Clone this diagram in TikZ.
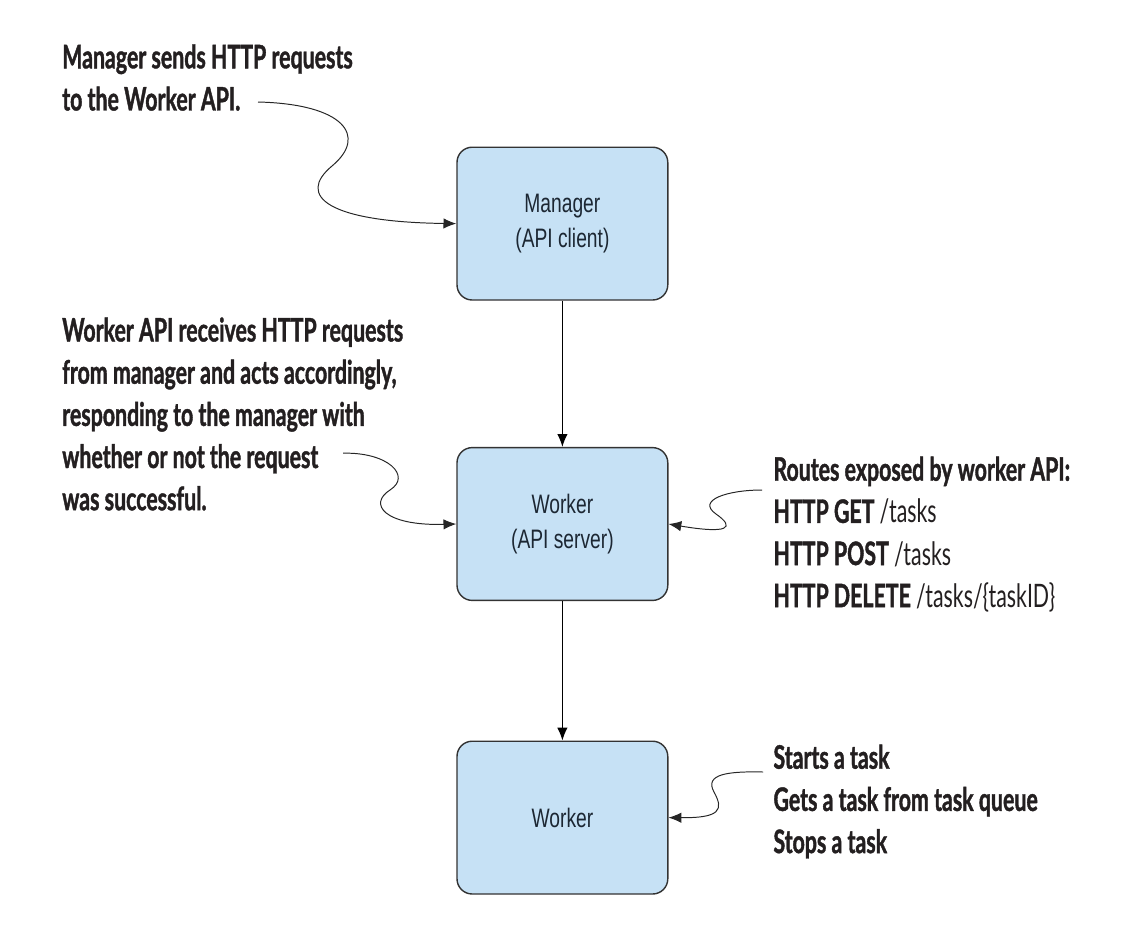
\documentclass[tikz,border=0pt]{standalone}
\usepackage{fontspec}
\setmainfont{Liberation Sans}
\newfontfamily\notefont[FakeStretch=0.66,BoldFeatures={FakeBold=1.2}]{Lato}
\newfontfamily\boxfont[FakeStretch=0.72]{Liberation Sans}
\usetikzlibrary{arrows.meta}
\definecolor{boxblue}{HTML}{C6E1F5}
\definecolor{boxline}{HTML}{333333}
\definecolor{boxtext}{HTML}{1C2733}
\definecolor{notetext}{HTML}{231F20}
\begin{document}
\begin{tikzpicture}[
  box/.style={draw=boxline,line width=1pt,fill=boxblue,rounded corners=0.38cm,
    minimum width=5.27cm,minimum height=3.82cm,align=center,text=boxtext,
    font=\boxfont\fontsize{19}{25}\selectfont},
  note/.style={anchor=north west,align=left,text=notetext,inner sep=0pt,
    font=\notefont\bfseries\fontsize{23}{30}\selectfont},
  flow/.style={line width=0.8pt,-{Latex[length=3.2mm,width=2.6mm]}},
  curvy/.style={line width=0.7pt,draw=black!85,-{Latex[length=3.2mm,width=2.6mm]}}]
  \useasboundingbox (0,0) rectangle (28.05,-23.6);
  \node[box] (mgr) at (14.06,-5.59) {Manager\\(API client)};
  \node[box] (wrk) at (14.06,-13.1) {Worker\\(API server)};
  \node[box] (wrk2) at (14.06,-20.44) {Worker};
  \draw[flow] (mgr) -- (wrk);
  \draw[flow] (wrk) -- (wrk2);
  \node[note] (n1) at (1.55,-1.1) {Manager sends HTTP requests\\to the Worker API.};
  \node[note] (n2) at (1.55,-7.93) {Worker API receives HTTP requests\\from manager and acts accordingly,\\responding to the manager with\\whether or not the request\\was successful.};
  \node[note] (n3) at (19.33,-11.41) {Routes exposed by worker API:\\HTTP GET \mdseries/tasks\\HTTP POST \mdseries/tasks\\HTTP DELETE \mdseries/tasks/\{taskID\}};
  \node[note] (n4) at (19.33,-18.61) {Starts a task\\Gets a task from task queue\\Stops a task};
  \coordinate (c1) at (6.45,-2.55);
  \coordinate (c2) at (8.58,-11.33);
  \coordinate (c3) at (19.05,-12.25);
  \coordinate (c4) at (19.08,-19.3);
  \draw[curvy] (c1) .. controls (8.6,-2.6) and (9.2,-3.4) .. (8.3,-4.15) .. controls (7.4,-4.9) and (8.2,-5.55) .. (mgr.west);
  \draw[curvy] (c2) .. controls (9.7,-11.3) and (10.3,-11.9) .. (9.75,-12.25) .. controls (9.2,-12.6) and (9.6,-13.15) .. (wrk.west);
  \draw[curvy] (c3) .. controls (18.2,-12.25) and (17.4,-12.5) .. (17.9,-12.85) .. controls (18.4,-13.2) and (18.2,-13.35) .. (wrk.east);
  \draw[curvy] (c4) .. controls (18.2,-19.28) and (17.6,-19.35) .. (17.85,-19.8) .. controls (18.1,-20.25) and (18,-20.45) .. (wrk2.east);
\end{tikzpicture}
\end{document}
